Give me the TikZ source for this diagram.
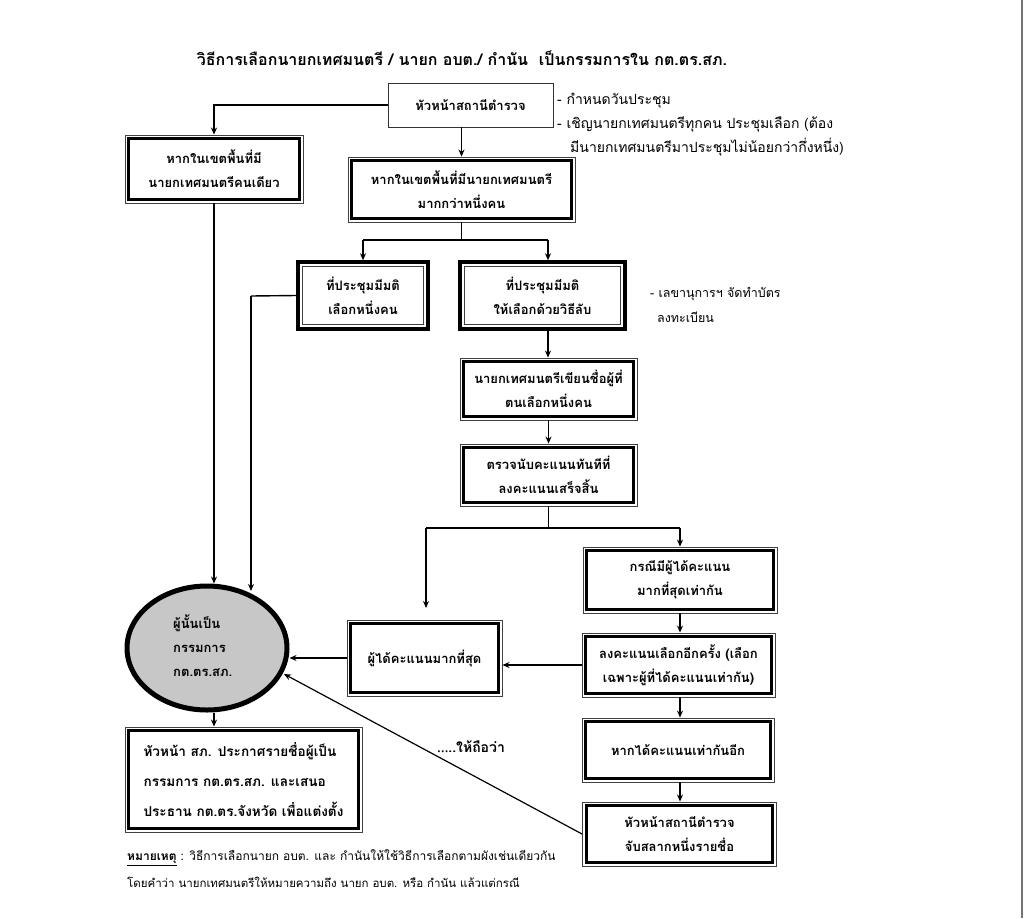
\documentclass[tikz,border=0pt]{standalone}
\usepackage{fontspec}
\usetikzlibrary{arrows.meta,shapes.geometric}
\newfontfamily\thai[Script=Thai]{Loma}
\newcommand{\boxfont}{\thai\bfseries\fontsize{13}{24}\selectfont}
\newcommand{\notefont}{\thai\fontsize{14}{22}\selectfont}
\newcommand{\footfont}{\thai\fontsize{12}{22}\selectfont}
\begin{document}
\begin{tikzpicture}[x=1pt,y=-1pt,
  base/.style={inner sep=0pt, align=center, font=\boxfont},
  thinthick/.style={base, draw=black!75, line width=0.9pt,
    path picture={\draw[line width=3.2pt,black] ([shift={(3.8pt,3.8pt)}]path picture bounding box.south west) rectangle ([shift={(-3.8pt,-3.8pt)}]path picture bounding box.north east);}},
  thickthin/.style={base, draw=black, line width=3.5pt,
    path picture={\draw[line width=0.9pt,black!75] ([shift={(4.6pt,4.6pt)}]path picture bounding box.south west) rectangle ([shift={(-4.6pt,-4.6pt)}]path picture bounding box.north east);}},
  plainbox/.style={base, draw=black!80, line width=0.8pt},
  conn/.style={line width=1.4pt, -{Stealth[length=7pt,width=6pt]}},
  wire/.style={line width=1.4pt},
  note/.style={anchor=west, inner sep=0pt, font=\notefont}
]
\useasboundingbox (0,0) rectangle (1024,918);
\fill[white] (0,0) rectangle (1024,918);
\draw[black!55, line width=1.6pt] (1022,0) -- (1022,918);

% title
\node[inner sep=0pt, font=\thai\bfseries\fontsize{16}{18}\selectfont] (title) at (462,58) {วิธีการเลือกนายกเทศมนตรี / นายก อบต./ กำนัน\ \ เป็นกรรมการใน กต.ตร.สภ.};

% boxes
\node[plainbox, minimum width=165pt, minimum height=44pt] (top) at (470.5,105) {หัวหน้าสถานีตำรวจ};
\node[thinthick, minimum width=178pt, minimum height=68pt] (b1) at (214,169) {หากในเขตพื้นที่มี\\นายกเทศมนตรีคนเดียว};
\node[thinthick, minimum width=227pt, minimum height=65pt] (b2) at (461.5,189.5) {หากในเขตพื้นที่มีนายกเทศมนตรี\\มากกว่าหนึ่งคน};
\node[thickthin, minimum width=130pt, minimum height=67pt] (b3) at (363,295.5) {ที่ประชุมมีมติ\\เลือกหนึ่งคน};
\node[thickthin, minimum width=165pt, minimum height=67pt] (b4) at (542.5,295.5) {ที่ประชุมมีมติ\\ให้เลือกด้วยวิธีลับ};
\node[thinthick, minimum width=177pt, minimum height=62pt] (b5) at (548.5,389) {นายกเทศมนตรีเขียนชื่อผู้ที่\\ตนเลือกหนึ่งคน};
\node[thinthick, minimum width=177pt, minimum height=62pt] (b6) at (548.5,475) {ตรวจนับคะแนนทันทีที่\\ลงคะแนนเสร็จสิ้น};
\node[thinthick, minimum width=194pt, minimum height=66pt] (b7) at (680,580) {กรณีมีผู้ได้คะแนน\\มากที่สุดเท่ากัน};
\node[thinthick, minimum width=193pt, minimum height=64pt] (b8) at (678.5,665) {ลงคะแนนเลือกอีกครั้ง (เลือก\\เฉพาะผู้ที่ได้คะแนนเท่ากัน)};
\node[thinthick, minimum width=192pt, minimum height=64pt] (b9) at (678,750) {หากได้คะแนนเท่ากันอีก};
\node[thinthick, minimum width=194pt, minimum height=64pt] (b10) at (679.5,834) {หัวหน้าสถานีตำรวจ\\จับสลากหนึ่งรายชื่อ};
\node[thinthick, minimum width=155pt, minimum height=76pt] (bw) at (424.5,658) {ผู้ได้คะแนนมากที่สุด};
\node[ellipse, draw=black, line width=5pt, fill=black!22, minimum width=160pt, minimum height=124pt, inner sep=0pt] (ell) at (207,648) {};
\node[inner sep=0pt, align=left, font=\boxfont, anchor=west] (elltext) at (173,646) {ผู้นั้นเป็น\\กรรมการ\\กต.ตร.สภ.};
\node[thinthick, minimum width=237pt, minimum height=105pt, align=left, font=\thai\bfseries\fontsize{13.6}{30}\selectfont] (bl) at (243.5,779.5) {หัวหน้า สภ. ประกาศรายชื่อผู้เป็น\\กรรมการ กต.ตร.สภ. และเสนอ\\ประธาน กต.ตร.จังหวัด เพื่อแต่งตั้ง};

% notes
\node[note] (n1) at (557,101) {- กำหนดวันประชุม};
\node[note] (n2) at (557,124) {- เชิญนายกเทศมนตรีทุกคน ประชุมเลือก (ต้อง};
\node[note] (n3) at (570,147) {มีนายกเทศมนตรีมาประชุมไม่น้อยกว่ากึ่งหนึ่ง)};
\node[note, font=\thai\fontsize{12.5}{22}\selectfont] (n4) at (650,294) {- เลขานุการฯ จัดทำบัตร};
\node[note, font=\thai\fontsize{12.5}{22}\selectfont] (n5) at (657,317) {ลงทะเบียน};
\node[inner sep=0pt, font=\thai\bfseries\fontsize{14}{16}\selectfont] (lbl) at (471,747) {\dots..ให้ถือว่า};
\node[anchor=west, inner sep=0pt, font=\footfont] (f1) at (127,858) {\textbf{\underline{หมายเหตุ}} : วิธีการเลือกนายก อบต. และ กำนันให้ใช้วิธีการเลือกตามผังเช่นเดียวกัน};
\node[anchor=west, inner sep=0pt, font=\thai\fontsize{11.5}{22}\selectfont] (f2) at (127,882) {โดยคำว่า นายกเทศมนตรีให้หมายความถึง นายก อบต. หรือ กำนัน แล้วแต่กรณี};

% coordinates
\coordinate (s1l) at (363,240);
\coordinate (s1r) at (548,240);
\coordinate (s1) at (461.5,240);
\coordinate (b3l) at (251,296);
\coordinate (ellA) at (251,591);
\coordinate (s2) at (548.5,528);
\coordinate (s2l) at (426,528);
\coordinate (s2r) at (680,528);
\coordinate (bwtop) at (426,608);
\coordinate (ellD) at (284,674);

% connectors
\draw[conn] (b2.north |- top.south) -- (b2.north);
\draw[conn] (top.west) -| (b1.north);
\draw[conn] (b1.south) -- (b1.south |- ell.north);
\draw[wire] (b2.south) -- (s1);
\draw[wire] (s1l) -- (s1r);
\draw[conn] (s1l) -- (b3.north);
\draw[conn] (s1r) -- (s1r |- b4.north);
\draw[wire] (b3.west) -- (b3l);
\draw[conn] (b3l) -- (ellA);
\draw[conn] (b4.south -| s1r) -- (b5.north -| s1r);
\draw[conn] (b5.south) -- (b6.north);
\draw[wire] (b6.south) -- (s2);
\draw[wire] (s2l) -- (s2r);
\draw[conn] (s2l) -- (bwtop);
\draw[conn] (s2r) -- (b7.north);
\draw[conn] (b7.south) -- (b7.south |- b8.north);
\draw[conn] (b8.south -| b7.south) -- (b9.north -| b7.south);
\draw[conn] (b9.south -| b7.south) -- (b10.north -| b7.south);
\draw[conn] (b8.west) -- (b8.west -| bw.east);
\draw[conn] (bw.west) -- (bw.west -| ell.east);
\draw[conn, line width=1.2pt] (b10.west) -- (ellD);
\draw[conn] (ell.south -| b1.south) -- (bl.north -| b1.south);
\end{tikzpicture}
\end{document}
